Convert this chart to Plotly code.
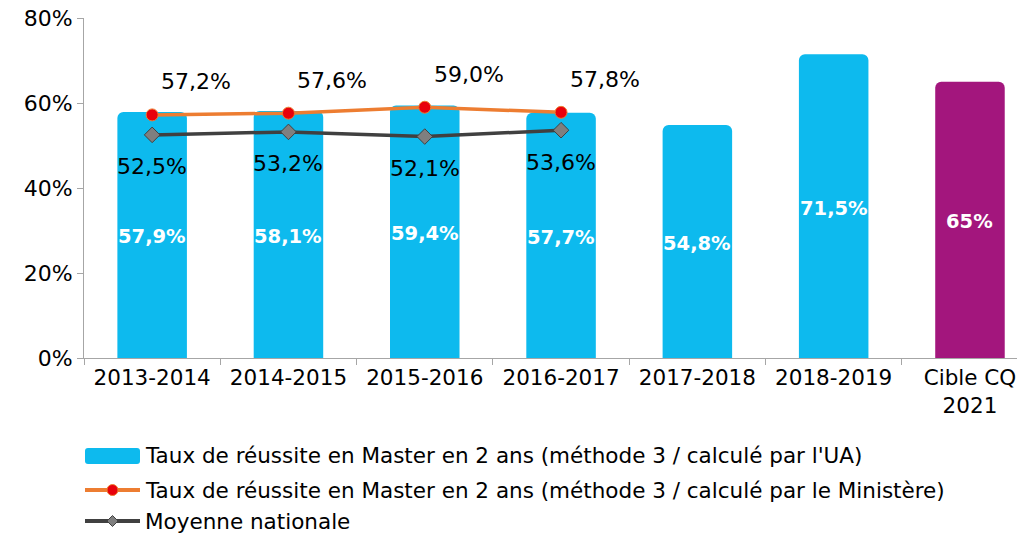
import plotly.graph_objects as go

categories = ["2013-2014", "2014-2015", "2015-2016", "2016-2017", "2017-2018", "2018-2019", "Cible CQ<br>2021"]
ua_values = [57.9, 58.1, 59.4, 57.7, 54.8, 71.5, 65.0]
ua_labels = ["57,9%", "58,1%", "59,4%", "57,7%", "54,8%", "71,5%", "65%"]
min_values = [57.2, 57.6, 59.0, 57.8]
nat_values = [52.5, 53.2, 52.1, 53.6]
y_ticks = [0, 20, 40, 60, 80]
y_tick_labels = ["0%", "20%", "40%", "60%", "80%"]
legend_names = [
    "Taux de réussite en Master en 2 ans (méthode 3 / calculé par l'UA)",
    "Taux de réussite en Master en 2 ans (méthode 3 / calculé par le Ministère)",
    "Moyenne nationale",
]

def fr(v):
    return f"{v:.1f}".replace(".", ",") + "%"

BLUE = "#0DBAEE"
PURPLE = "#A3167D"
ORANGE = "#ED7D31"
RED = "#E8000B"
DARK = "#404040"
GREY = "#7F7F7F"
FONT = "DejaVu Sans"

W, H = 1017, 533
ML, MR, MT, MB = 84, 0, 18, 175
PW, PH = W - ML - MR, H - MT - MB

def px(p):
    return (p - ML) / PW

def py(q):
    return (H - MB - q) / PH

bar_colors = [BLUE] * 6 + [PURPLE]

fig = go.Figure()
fig.add_trace(go.Bar(
    x=categories, y=ua_values, width=0.51,
    marker=dict(color=bar_colors, line=dict(width=0), cornerradius=6),
    name=legend_names[0], hoverinfo="skip",
))
fig.add_trace(go.Scatter(
    x=categories[:4], y=min_values, mode="lines+markers",
    line=dict(color=ORANGE, width=3.5),
    marker=dict(symbol="circle", size=12, color=RED, line=dict(color=ORANGE, width=1)),
    name=legend_names[1], hoverinfo="skip",
))
fig.add_trace(go.Scatter(
    x=categories[:4], y=nat_values, mode="lines+markers",
    line=dict(color=DARK, width=3.5),
    marker=dict(symbol="diamond", size=12, color=GREY, line=dict(color=DARK, width=1)),
    name=legend_names[2], hoverinfo="skip",
))

# bar value labels (centered in each bar)
for c, v, t in zip(categories, ua_values, ua_labels):
    fig.add_annotation(x=c, y=v / 2, yshift=-2, text=t, showarrow=False,
                       font=dict(family=FONT, size=19.5, color="white", weight="bold"))
for c, v in zip(categories[:4], min_values):
    fig.add_annotation(x=c, y=v, text=fr(v), showarrow=False, xshift=44, yshift=33,
                       font=dict(family=FONT, size=22, color="black"))
for c, v in zip(categories[:4], nat_values):
    fig.add_annotation(x=c, y=v, text=fr(v), showarrow=False, yshift=-32,
                       font=dict(family=FONT, size=22, color="black"))

# custom legend (paper coordinates)
shapes = []
leg_y = [456, 490, 521]
shapes.append(dict(type="path", xref="paper", yref="paper",
                   path=(f"M {px(88)} {py(448)} L {px(137)} {py(448)} Q {px(140)} {py(448)} {px(140)} {py(451)} "
                         f"L {px(140)} {py(461)} Q {px(140)} {py(464)} {px(137)} {py(464)} "
                         f"L {px(88)} {py(464)} Q {px(85)} {py(464)} {px(85)} {py(461)} "
                         f"L {px(85)} {py(451)} Q {px(85)} {py(448)} {px(88)} {py(448)} Z"),
                   fillcolor=BLUE, line=dict(width=0), layer="above"))
shapes.append(dict(type="line", xref="paper", yref="paper",
                   x0=px(85), x1=px(140), y0=py(leg_y[1]), y1=py(leg_y[1]),
                   line=dict(color=ORANGE, width=4), layer="above"))
shapes.append(dict(type="circle", xref="paper", yref="paper",
                   x0=px(107), x1=px(118), y0=py(leg_y[1] + 5.5), y1=py(leg_y[1] - 5.5),
                   fillcolor=RED, line=dict(color=ORANGE, width=1), layer="above"))
shapes.append(dict(type="line", xref="paper", yref="paper",
                   x0=px(85), x1=px(140), y0=py(leg_y[2]), y1=py(leg_y[2]),
                   line=dict(color=DARK, width=4), layer="above"))
cx, cy, r = px(112.5), py(leg_y[2]), 5.5
shapes.append(dict(type="path", xref="paper", yref="paper",
                   path=f"M {px(112.5 - r)} {cy} L {cx} {py(leg_y[2] - r)} L {px(112.5 + r)} {cy} L {cx} {py(leg_y[2] + r)} Z",
                   fillcolor=GREY, line=dict(color=DARK, width=1), layer="above"))
for name, yy in zip(legend_names, leg_y):
    fig.add_annotation(xref="paper", yref="paper", x=px(143), y=py(yy), text=name,
                       showarrow=False, xanchor="left", yanchor="middle",
                       font=dict(family=FONT, size=21.5, color="black"))

fig.update_layout(
    width=W, height=H,
    margin=dict(l=ML, r=MR, t=MT, b=MB),
    plot_bgcolor="white", paper_bgcolor="white",
    font=dict(family=FONT, size=22, color="black"),
    showlegend=False,
    hovermode=False,
    shapes=shapes,
    xaxis=dict(
        range=[-0.5, 6.345], showline=True, linecolor="#A6A6A6", linewidth=1,
        ticks="outside", tickson="boundaries", ticklen=6, tickcolor="#A6A6A6",
        tickfont=dict(family=FONT, size=21.5, color="black"), showgrid=False,
        automargin=False, ticklabeloverflow="allow",
    ),
    yaxis=dict(
        range=[0, 80], tickvals=y_ticks, ticktext=y_tick_labels,
        showline=True, linecolor="#A6A6A6", linewidth=1,
        ticks="outside", ticklen=6, tickcolor="#A6A6A6",
        tickfont=dict(family=FONT, size=22, color="black"), showgrid=False, zeroline=False,
        automargin=False, ticklabeloverflow="allow",
    ),
)

fig.write_html("out.html", config={"displayModeBar": False},
               post_script="document.body.style.margin='0';")
